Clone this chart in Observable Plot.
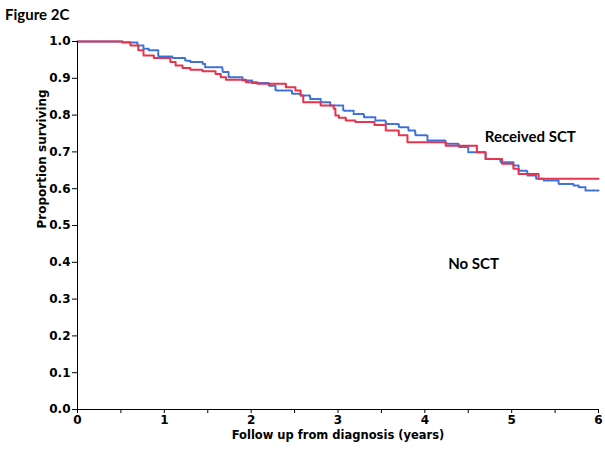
<!DOCTYPE html>
<html><head><meta charset="utf-8">
<script src="https://cdn.jsdelivr.net/npm/d3@7"></script>
<script src="https://cdn.jsdelivr.net/npm/@observablehq/plot@0.6"></script>
<style>
body{margin:0;background:#fff;}
#title{font-family:Lato,"Open Sans",sans-serif;font-weight:bold;font-size:15px;height:28px;line-height:28px;padding-left:5px;color:#000;}
</style></head><body>
<div id="title">Figure 2C</div>
<div id="chart"></div>
<script>
// Received SCT (red)
const sctTime = [0, 0.515, 0.61, 0.70, 0.76, 0.88, 1.07, 1.13, 1.21, 1.30, 1.44, 1.59, 1.65, 1.71, 1.94, 2.07, 2.40, 2.51, 2.57, 2.60, 2.80, 2.95, 2.97, 3.01, 3.09, 3.20, 3.42, 3.55, 3.70, 3.80, 4.24, 4.60, 4.70, 4.89, 5.02, 5.08, 5.31, 6.0];
const sctSurv = [1.0, 0.998, 0.989, 0.976, 0.962, 0.955, 0.944, 0.935, 0.928, 0.923, 0.919, 0.912, 0.903, 0.896, 0.889, 0.885, 0.876, 0.867, 0.853, 0.835, 0.826, 0.817, 0.799, 0.793, 0.785, 0.781, 0.773, 0.758, 0.745, 0.726, 0.717, 0.699, 0.681, 0.668, 0.654, 0.640, 0.627, 0.627];
// No SCT (blue)
const noSctTime = [0, 0.515, 0.69, 0.76, 0.82, 0.93, 1.09, 1.24, 1.30, 1.44, 1.47, 1.67, 1.74, 1.90, 2.01, 2.20, 2.28, 2.47, 2.57, 2.68, 2.80, 2.91, 3.06, 3.18, 3.30, 3.43, 3.55, 3.70, 3.81, 3.89, 4.03, 4.24, 4.39, 4.50, 4.70, 4.87, 5.02, 5.08, 5.18, 5.28, 5.37, 5.54, 5.71, 5.77, 5.85, 6.0];
const noSctSurv = [1.0, 0.997, 0.989, 0.980, 0.976, 0.959, 0.955, 0.948, 0.944, 0.939, 0.930, 0.917, 0.903, 0.894, 0.887, 0.880, 0.867, 0.858, 0.853, 0.844, 0.835, 0.826, 0.812, 0.803, 0.794, 0.785, 0.776, 0.767, 0.758, 0.745, 0.731, 0.722, 0.713, 0.699, 0.681, 0.672, 0.663, 0.649, 0.636, 0.627, 0.622, 0.613, 0.609, 0.604, 0.595, 0.595];

const xTicks = [0, 1, 2, 3, 4, 5, 6];
const xMinorTicks = [0.5, 1.5, 2.5, 3.5, 4.5, 5.5];
const yTicks = [0, 0.1, 0.2, 0.3, 0.4, 0.5, 0.6, 0.7, 0.8, 0.9, 1.0];
const seriesNames = ["Received SCT", "No SCT"];
const seriesColors = ["#e5344d", "#3a6fdc"];
const labelPos = [{name: "Received SCT", t: 4.69, s: 0.739}, {name: "No SCT", t: 4.27, s: 0.394}];
const xLabel = "Follow up from diagnosis (years)";
const yLabel = "Proportion surviving";

const sct = sctTime.map((t, i) => ({t, s: sctSurv[i]}));
const noSct = noSctTime.map((t, i) => ({t, s: noSctSurv[i]}));

const plot = Plot.plot({
  width: 605,
  height: 421,
  marginTop: 13,
  marginBottom: 40,
  marginLeft: 77,
  marginRight: 7,
  style: {fontFamily: "'DejaVu Sans', sans-serif", fontWeight: "bold", fontSize: "12px", color: "#000", background: "#fff"},
  x: {domain: [0, 6]},
  y: {domain: [0, 1]},
  marks: [
    Plot.line(noSct, {x: "t", y: "s", curve: "step-after", stroke: seriesColors[1], strokeWidth: 2, strokeDasharray: "2.5,1.5"}),
    Plot.line(sct, {x: "t", y: "s", curve: "step-after", stroke: seriesColors[0], strokeWidth: 2}),
    Plot.axisX({ticks: xTicks, tickSize: 4, tickPadding: 2, tickFormat: d => String(d), label: null, fontSize: 12}),
    Plot.axisX({ticks: xMinorTicks, tickSize: 4, tickFormat: () => "", label: null}),
    Plot.axisY({ticks: yTicks, tickSize: 5, tickPadding: 2, tickFormat: d3.format(".1f"), label: null, fontSize: 12}),
    Plot.ruleY([0], {stroke: "#000"}),
    Plot.ruleX([0], {stroke: "#000"}),
    Plot.text(labelPos, {x: "t", y: "s", text: "name", textAnchor: "start", fontFamily: "Lato, 'Open Sans', sans-serif", fontSize: 15, fontWeight: "bold", fill: "#000"}),
    Plot.text([xLabel], {frameAnchor: "bottom", dy: 29, fontSize: 11.5, fill: "#000"}),
    Plot.text([yLabel], {frameAnchor: "left", dx: -35, dy: 3, rotate: -90, fontSize: 12, fill: "#000"})
  ]
});
document.getElementById("chart").appendChild(plot);
</script>
</body></html>
